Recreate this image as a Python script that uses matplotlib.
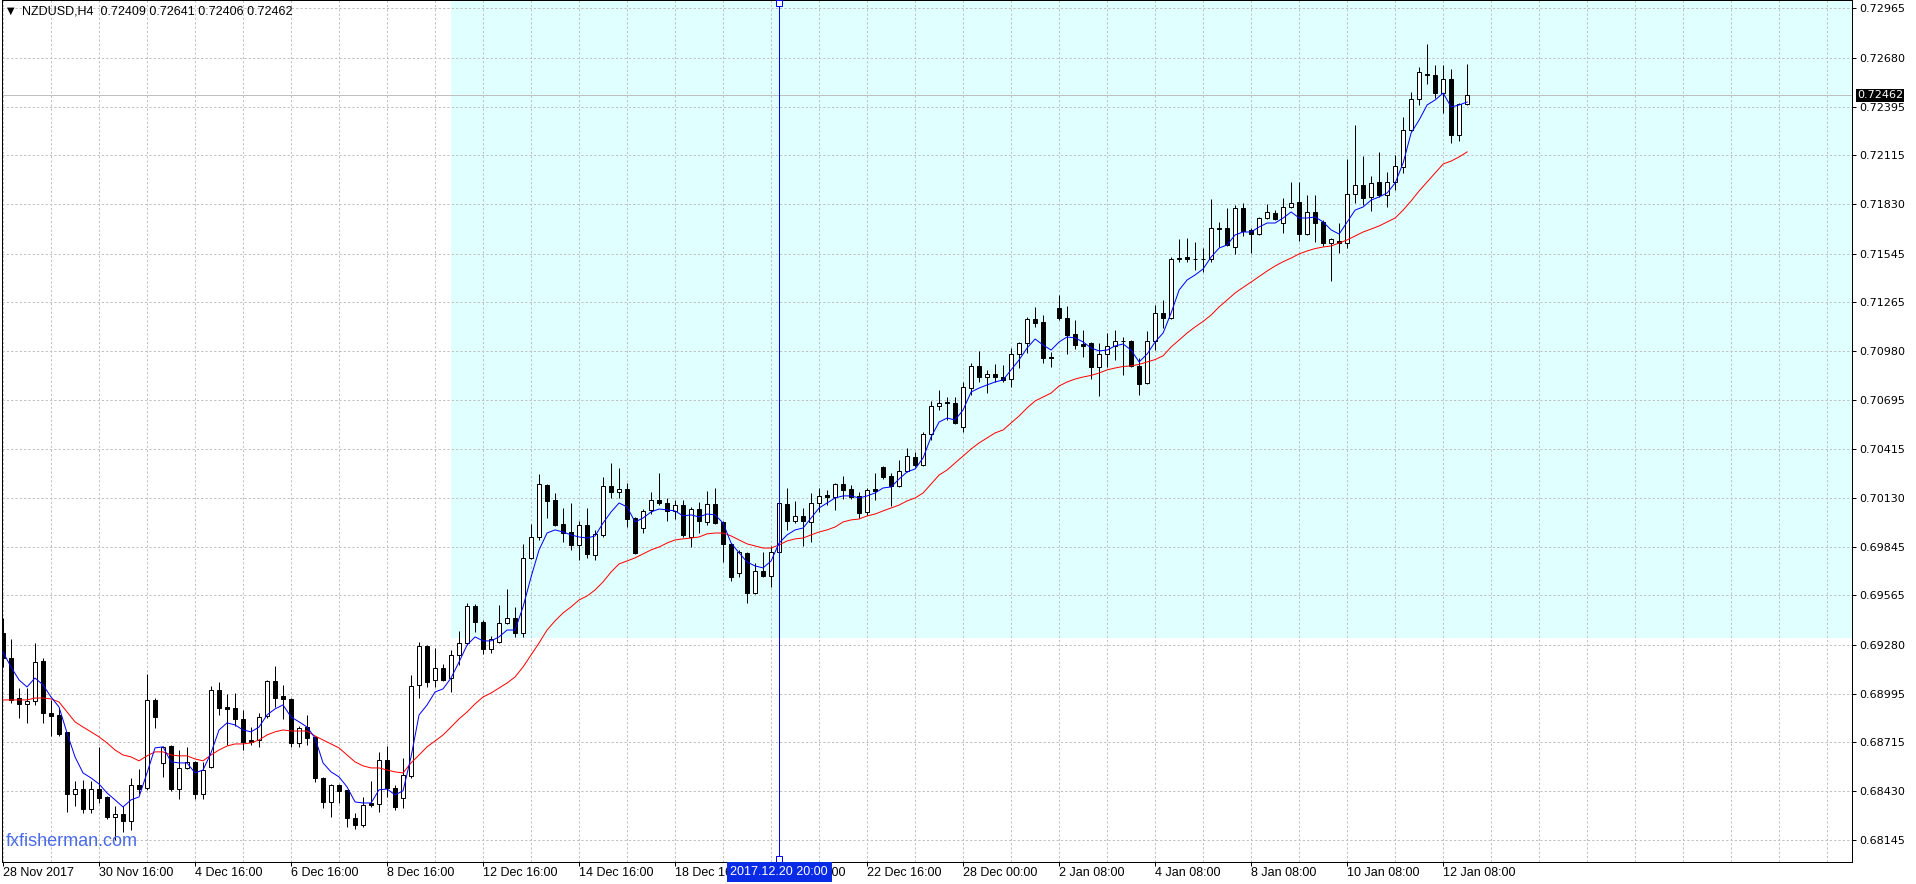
import matplotlib
matplotlib.use("Agg")
import matplotlib.pyplot as plt
import matplotlib.transforms as mtransforms
from matplotlib.patches import Rectangle
import numpy as np

# NZDUSD H4 candles, 28 Nov 2017 20:00 .. 12 Jan 2018 20:00
opens = [
    0.69347, 0.69202, 0.68970, 0.68936, 0.68953, 0.69185, 0.68884, 0.68872, 0.68774, 0.68414,
    0.68443, 0.68327, 0.68443, 0.68397, 0.68281, 0.68298, 0.68258, 0.68466, 0.68449, 0.68959,
    0.68594, 0.68692, 0.68443, 0.68565, 0.68600, 0.68414, 0.68571, 0.69017, 0.68918, 0.68913,
    0.68849, 0.68727, 0.68727, 0.68866, 0.69069, 0.68982, 0.68965, 0.68710, 0.68802, 0.68745,
    0.68507, 0.68368, 0.68466, 0.68438, 0.68275, 0.68235, 0.68362, 0.68356, 0.68611, 0.68449,
    0.68391, 0.68519, 0.69046, 0.69272, 0.69075, 0.69144, 0.69086, 0.69220, 0.69289, 0.69503,
    0.69411, 0.69254, 0.69295, 0.69405, 0.69434, 0.69347, 0.69782, 0.69903, 0.70204, 0.70118,
    0.69979, 0.69932, 0.69857, 0.69973, 0.69799, 0.69915, 0.70199, 0.70164, 0.70181, 0.70013,
    0.69955, 0.70060, 0.70118, 0.70100, 0.70054, 0.70088, 0.69903, 0.70065, 0.69990, 0.70094,
    0.69990, 0.69863, 0.69695, 0.69811, 0.69579, 0.69706, 0.69677, 0.69816, 0.70094, 0.69996,
    0.70025, 0.69990, 0.70100, 0.70147, 0.70135, 0.70210, 0.70181, 0.70141, 0.70048, 0.70181,
    0.70309, 0.70256, 0.70199, 0.70286, 0.70367, 0.70320, 0.70500, 0.70662, 0.70685, 0.70679,
    0.70540, 0.70766, 0.70894, 0.70830, 0.70847, 0.70830, 0.70818, 0.70963, 0.71027, 0.71166,
    0.71149, 0.70946, 0.71230, 0.71172, 0.71079, 0.71021, 0.71027, 0.70888, 0.70963, 0.71010,
    0.71039, 0.71039, 0.70894, 0.70795, 0.71039, 0.71201, 0.71172, 0.71514, 0.71525, 0.71514,
    0.71511, 0.71514, 0.71693, 0.71693, 0.71583, 0.71809, 0.71682, 0.71658, 0.71751, 0.71780,
    0.71722, 0.71815, 0.71844, 0.71658, 0.71786, 0.71728, 0.71606, 0.71618, 0.71606, 0.71890,
    0.71942, 0.71873, 0.71960, 0.71884, 0.71960, 0.72047, 0.72261, 0.72441, 0.72585, 0.72580,
    0.72475, 0.72556, 0.72232, 0.72409,
]
highs = [
    0.69434, 0.69312, 0.69028, 0.69028, 0.69289, 0.69202, 0.68959, 0.68913, 0.68774, 0.68490,
    0.68495, 0.68490, 0.68687, 0.68403, 0.68345, 0.68345, 0.68507, 0.68559, 0.69109, 0.68970,
    0.68692, 0.68700, 0.68669, 0.68687, 0.68605, 0.68600, 0.69040, 0.69063, 0.68994, 0.68999,
    0.68901, 0.68802, 0.68884, 0.69075, 0.69156, 0.69046, 0.68970, 0.68808, 0.68872, 0.68750,
    0.68510, 0.68472, 0.68472, 0.68440, 0.68304, 0.68397, 0.68490, 0.68658, 0.68692, 0.68466,
    0.68623, 0.69104, 0.69295, 0.69275, 0.69260, 0.69167, 0.69249, 0.69359, 0.69521, 0.69515,
    0.69420, 0.69330, 0.69509, 0.69602, 0.69498, 0.69863, 0.69979, 0.70268, 0.70210, 0.70158,
    0.70071, 0.70100, 0.69996, 0.70071, 0.69944, 0.70251, 0.70332, 0.70303, 0.70216, 0.70020,
    0.70065, 0.70164, 0.70274, 0.70129, 0.70118, 0.70118, 0.70077, 0.70106, 0.70170, 0.70187,
    0.69996, 0.69868, 0.69828, 0.69816, 0.69753, 0.69816, 0.69851, 0.70105, 0.70187, 0.70112,
    0.70071, 0.70158, 0.70187, 0.70175, 0.70216, 0.70256, 0.70204, 0.70164, 0.70187, 0.70274,
    0.70315, 0.70274, 0.70349, 0.70419, 0.70396, 0.70511, 0.70691, 0.70755, 0.70714, 0.70714,
    0.70801, 0.70911, 0.70981, 0.70871, 0.70905, 0.70900, 0.70998, 0.71033, 0.71178, 0.71236,
    0.71189, 0.70975, 0.71305, 0.71241, 0.71160, 0.71102, 0.71033, 0.71027, 0.71085, 0.71102,
    0.71062, 0.71044, 0.70940, 0.71096, 0.71247, 0.71276, 0.71525, 0.71630, 0.71635, 0.71612,
    0.71577, 0.71861, 0.71728, 0.71809, 0.71826, 0.71838, 0.71693, 0.71755, 0.71832, 0.71797,
    0.71867, 0.71960, 0.71960, 0.71884, 0.71884, 0.71740, 0.71635, 0.71722, 0.72093, 0.72290,
    0.72110, 0.71994, 0.72134, 0.72018, 0.72116, 0.72336, 0.72481, 0.72626, 0.72759, 0.72637,
    0.72637, 0.72614, 0.72415, 0.72641,
]
lows = [
    0.69150, 0.68942, 0.68855, 0.68826, 0.68930, 0.68826, 0.68750, 0.68750, 0.68310, 0.68345,
    0.68304, 0.68304, 0.68362, 0.68270, 0.68148, 0.68194, 0.68206, 0.68414, 0.68440, 0.68797,
    0.68513, 0.68430, 0.68385, 0.68560, 0.68385, 0.68385, 0.68565, 0.68872, 0.68698, 0.68808,
    0.68669, 0.68698, 0.68687, 0.68855, 0.68918, 0.68849, 0.68687, 0.68687, 0.68698, 0.68484,
    0.68333, 0.68281, 0.68362, 0.68223, 0.68212, 0.68223, 0.68339, 0.68310, 0.68397, 0.68322,
    0.68333, 0.68507, 0.68970, 0.69034, 0.69034, 0.69070, 0.69005, 0.69162, 0.69280, 0.69353,
    0.69225, 0.69231, 0.69290, 0.69400, 0.69324, 0.69324, 0.69775, 0.69886, 0.70013, 0.69965,
    0.69874, 0.69828, 0.69770, 0.69782, 0.69770, 0.69903, 0.70129, 0.70129, 0.69961, 0.69805,
    0.69926, 0.70036, 0.70090, 0.69996, 0.70007, 0.69905, 0.69845, 0.69926, 0.69973, 0.69978,
    0.69758, 0.69648, 0.69671, 0.69521, 0.69575, 0.69670, 0.69614, 0.69810, 0.69944, 0.69984,
    0.69851, 0.69874, 0.70048, 0.70088, 0.70060, 0.70123, 0.70123, 0.70013, 0.70031, 0.70118,
    0.70239, 0.70083, 0.70193, 0.70280, 0.70309, 0.70315, 0.70465, 0.70639, 0.70581, 0.70558,
    0.70511, 0.70726, 0.70801, 0.70737, 0.70801, 0.70801, 0.70772, 0.70882, 0.70969, 0.71120,
    0.70911, 0.70888, 0.71160, 0.70963, 0.70992, 0.70946, 0.70818, 0.70720, 0.70888, 0.70929,
    0.70842, 0.70885, 0.70726, 0.70790, 0.70986, 0.71114, 0.71166, 0.71496, 0.71496, 0.71450,
    0.71438, 0.71496, 0.71583, 0.71590, 0.71543, 0.71647, 0.71548, 0.71650, 0.71748, 0.71740,
    0.71664, 0.71810, 0.71618, 0.71655, 0.71612, 0.71589, 0.71386, 0.71548, 0.71577, 0.71838,
    0.71826, 0.71792, 0.71873, 0.71815, 0.71913, 0.72012, 0.72255, 0.72406, 0.72527, 0.72446,
    0.72359, 0.72186, 0.72197, 0.72406,
]
closes = [
    0.69202, 0.68959, 0.68936, 0.68953, 0.69179, 0.68884, 0.68866, 0.68762, 0.68414, 0.68443,
    0.68327, 0.68443, 0.68391, 0.68281, 0.68298, 0.68258, 0.68466, 0.68443, 0.68959, 0.68860,
    0.68687, 0.68443, 0.68565, 0.68600, 0.68414, 0.68553, 0.69017, 0.68913, 0.68907, 0.68849,
    0.68716, 0.68716, 0.68860, 0.69069, 0.68970, 0.68965, 0.68710, 0.68797, 0.68739, 0.68507,
    0.68368, 0.68466, 0.68432, 0.68275, 0.68235, 0.68351, 0.68351, 0.68611, 0.68449, 0.68339,
    0.68524, 0.69040, 0.69272, 0.69063, 0.69144, 0.69075, 0.69220, 0.69289, 0.69503, 0.69411,
    0.69254, 0.69312, 0.69405, 0.69434, 0.69347, 0.69782, 0.69903, 0.70210, 0.70112, 0.69973,
    0.69926, 0.69857, 0.69973, 0.69805, 0.69921, 0.70199, 0.70164, 0.70181, 0.70007, 0.69811,
    0.70054, 0.70118, 0.70100, 0.70054, 0.70088, 0.69915, 0.70065, 0.69996, 0.70094, 0.69984,
    0.69863, 0.69671, 0.69816, 0.69579, 0.69706, 0.69677, 0.69816, 0.70100, 0.69996, 0.70025,
    0.69996, 0.70100, 0.70141, 0.70135, 0.70210, 0.70175, 0.70135, 0.70042, 0.70175, 0.70170,
    0.70251, 0.70199, 0.70286, 0.70372, 0.70320, 0.70500, 0.70662, 0.70679, 0.70679, 0.70564,
    0.70772, 0.70894, 0.70830, 0.70847, 0.70830, 0.70813, 0.70963, 0.71027, 0.71166, 0.71143,
    0.70940, 0.70940, 0.71172, 0.71073, 0.71015, 0.71010, 0.70888, 0.70963, 0.71010, 0.71039,
    0.71036, 0.70894, 0.70790, 0.71039, 0.71201, 0.71172, 0.71514, 0.71517, 0.71514, 0.71511,
    0.71514, 0.71693, 0.71687, 0.71595, 0.71809, 0.71676, 0.71658, 0.71751, 0.71786, 0.71745,
    0.71815, 0.71838, 0.71658, 0.71786, 0.71722, 0.71606, 0.71630, 0.71606, 0.71890, 0.71942,
    0.71867, 0.71954, 0.71884, 0.71960, 0.72052, 0.72261, 0.72441, 0.72597, 0.72580, 0.72475,
    0.72556, 0.72232, 0.72409, 0.72462,
]

# moving averages as drawn on the chart (blue = fast, red = slow)
ma_fast = [
    0.69237, 0.69150, 0.69075, 0.69034, 0.69086, 0.69046, 0.68976, 0.68918, 0.68768, 0.68629,
    0.68536, 0.68507, 0.68472, 0.68420, 0.68380, 0.68339, 0.68380, 0.68397, 0.68536, 0.68681,
    0.68687, 0.68600, 0.68594, 0.68594, 0.68536, 0.68553, 0.68652, 0.68785, 0.68826, 0.68814,
    0.68785, 0.68774, 0.68802, 0.68872, 0.68907, 0.68930, 0.68860, 0.68832, 0.68802, 0.68739,
    0.68594, 0.68542, 0.68513, 0.68455, 0.68368, 0.68362, 0.68362, 0.68438, 0.68443, 0.68409,
    0.68432, 0.68629, 0.68872, 0.68930, 0.69005, 0.69023, 0.69086, 0.69179, 0.69277, 0.69324,
    0.69301, 0.69301, 0.69324, 0.69364, 0.69364, 0.69498, 0.69671, 0.69828, 0.69926, 0.69944,
    0.69932, 0.69915, 0.69903, 0.69897, 0.69909, 0.69984, 0.70048, 0.70100, 0.70077, 0.69990,
    0.70013, 0.70048, 0.70065, 0.70060, 0.70054, 0.70025, 0.70031, 0.70019, 0.70036, 0.70031,
    0.69984, 0.69868, 0.69811, 0.69758, 0.69735, 0.69724, 0.69764, 0.69868, 0.69915, 0.69944,
    0.69955, 0.70013, 0.70071, 0.70100, 0.70129, 0.70141, 0.70141, 0.70129, 0.70141, 0.70158,
    0.70187, 0.70193, 0.70239, 0.70280, 0.70297, 0.70361, 0.70483, 0.70569, 0.70592, 0.70581,
    0.70639, 0.70743, 0.70766, 0.70784, 0.70801, 0.70813, 0.70871, 0.70929, 0.70998, 0.71050,
    0.71015, 0.70986, 0.71033, 0.71062, 0.71056, 0.71033, 0.70998, 0.70981, 0.70986, 0.71010,
    0.71021, 0.70986, 0.70917, 0.70963, 0.71033, 0.71085, 0.71201, 0.71334, 0.71392, 0.71421,
    0.71456, 0.71525, 0.71577, 0.71595, 0.71653, 0.71670, 0.71670, 0.71699, 0.71722, 0.71722,
    0.71751, 0.71786, 0.71751, 0.71751, 0.71757, 0.71728, 0.71682, 0.71658, 0.71728, 0.71797,
    0.71815, 0.71855, 0.71873, 0.71896, 0.71954, 0.72070, 0.72244, 0.72319, 0.72406, 0.72435,
    0.72475, 0.72394, 0.72406, 0.72423,
]
ma_slow = [
    0.68959, 0.68959, 0.68959, 0.68959, 0.68970, 0.68970, 0.68965, 0.68947, 0.68889, 0.68832,
    0.68802, 0.68774, 0.68745, 0.68710, 0.68669, 0.68640, 0.68629, 0.68606, 0.68635, 0.68658,
    0.68658, 0.68640, 0.68635, 0.68635, 0.68617, 0.68606, 0.68640, 0.68669, 0.68692, 0.68704,
    0.68704, 0.68710, 0.68727, 0.68756, 0.68774, 0.68785, 0.68779, 0.68779, 0.68779, 0.68750,
    0.68727, 0.68704, 0.68681, 0.68640, 0.68600, 0.68577, 0.68565, 0.68565, 0.68553, 0.68542,
    0.68536, 0.68594, 0.68640, 0.68687, 0.68721, 0.68756, 0.68802, 0.68849, 0.68889, 0.68936,
    0.68976, 0.68999, 0.69028, 0.69057, 0.69092, 0.69150, 0.69220, 0.69289, 0.69364, 0.69417,
    0.69463, 0.69498, 0.69538, 0.69561, 0.69596, 0.69643, 0.69700, 0.69747, 0.69764, 0.69782,
    0.69805, 0.69828, 0.69845, 0.69868, 0.69886, 0.69892, 0.69897, 0.69903, 0.69921, 0.69926,
    0.69926, 0.69909, 0.69886, 0.69863, 0.69851, 0.69839, 0.69839, 0.69857, 0.69880, 0.69892,
    0.69897, 0.69915, 0.69932, 0.69944, 0.69961, 0.69990, 0.70002, 0.70007, 0.70025, 0.70036,
    0.70054, 0.70071, 0.70088, 0.70112, 0.70129, 0.70158, 0.70210, 0.70262, 0.70291, 0.70332,
    0.70372, 0.70413, 0.70448, 0.70477, 0.70506, 0.70523, 0.70564, 0.70604, 0.70651, 0.70691,
    0.70714, 0.70737, 0.70778, 0.70801, 0.70818, 0.70830, 0.70839, 0.70853, 0.70871, 0.70882,
    0.70891, 0.70894, 0.70903, 0.70917, 0.70931, 0.70953, 0.71004, 0.71044, 0.71085, 0.71120,
    0.71152, 0.71189, 0.71236, 0.71276, 0.71317, 0.71349, 0.71380, 0.71412, 0.71444, 0.71473,
    0.71498, 0.71519, 0.71543, 0.71560, 0.71574, 0.71583, 0.71589, 0.71606, 0.71624, 0.71647,
    0.71670, 0.71687, 0.71705, 0.71728, 0.71751, 0.71797, 0.71850, 0.71908, 0.71960, 0.72012,
    0.72064, 0.72081, 0.72105, 0.72134,
]

price_ticks = [0.72965, 0.72680, 0.72395, 0.72115, 0.71830, 0.71545, 0.71265, 0.70980, 0.70695,
               0.70415, 0.70130, 0.69845, 0.69565, 0.69280, 0.68995, 0.68715, 0.68430, 0.68145]
date_labels = ["28 Nov 2017", "30 Nov 16:00", "4 Dec 16:00", "6 Dec 16:00", "8 Dec 16:00",
               "12 Dec 16:00", "14 Dec 16:00", "18 Dec 16:00", "20 Dec 16:00", "22 Dec 16:00",
               "28 Dec 00:00", "2 Jan 08:00", "4 Jan 08:00", "8 Jan 08:00", "10 Jan 08:00",
               "12 Jan 08:00"]
bars_per_label = 12

symbol = "NZDUSD,H4"
rect_start_bar = 56       # light cyan rectangle object
rect_low = 0.69320
vline_bar = 97
vline_label = "2017.12.20 20:00"
price_min, price_max = 0.68020, 0.73014
bar_max = 231.1

o = np.array(opens)
h = np.array(highs)
l = np.array(lows)
c = np.array(closes)
x = np.arange(len(o))

W, H = 1916, 884
fig = plt.figure(figsize=(W / 100, H / 100), dpi=100)
ax = fig.add_axes([2 / W, 22 / H, 1850 / W, 862 / H])
ax.set_xlim(-0.125, bar_max)
ax.set_ylim(price_min, price_max)

px = 0.72  # one pixel in points

ax.add_patch(Rectangle((rect_start_bar, rect_low), 1000, 1, facecolor="#e0ffff",
                       edgecolor="none", zorder=0))

# grid
grid_style = dict(color="#c0c0c0", lw=px, dashes=(3 * px, 3 * px), zorder=0.5)
for gx in np.arange(0, bar_max, bars_per_label / 2):
    ax.axvline(gx, **grid_style)
for gy in price_ticks:
    ax.axhline(gy, **grid_style)

ax.axhline(c[-1], color="#c0c0c0", lw=px, zorder=0.6)

# candles
up = c >= o
ax.vlines(x, l, h, color="black", lw=px, zorder=2)
body_lo = np.minimum(o, c)
body_h = np.abs(c - o)
ax.bar(x[up], body_h[up], bottom=body_lo[up], width=0.5, facecolor="white",
       edgecolor="black", lw=px, zorder=3)
ax.bar(x[~up], body_h[~up], bottom=body_lo[~up], width=0.5, facecolor="black",
       edgecolor="black", lw=px, zorder=3)

ax.plot(x, ma_slow, color="#ff0000", lw=px, zorder=4)
ax.plot(x, ma_fast, color="#0000ff", lw=px, zorder=4)

# selected vertical line
ax.axvline(vline_bar, color="#0000ff", lw=px, zorder=5)
trans = mtransforms.blended_transform_factory(ax.transData, ax.transAxes)
ax.plot([vline_bar, vline_bar], [0.003, 0.997], transform=trans, ls="none", marker="s",
        ms=4, mfc="white", mec="#0000ff", mew=px, zorder=6, clip_on=False)

for s in ax.spines.values():
    s.set_linewidth(px)
    s.set_color("black")

# axes ticks
ax.yaxis.tick_right()
ax.set_yticks(price_ticks)
ax.set_yticklabels([f"{p:.5f}" for p in price_ticks], fontsize=8, family="DejaVu Sans")
ax.tick_params(axis="y", direction="out", length=3, width=px, pad=2)

ax.set_xticks(np.arange(len(date_labels)) * bars_per_label)
ax.set_xticklabels(date_labels, fontsize=9, ha="left",
                   family=["Liberation Sans Narrow", "Liberation Sans"])
ax.tick_params(axis="x", direction="out", length=3, width=px, pad=0.5)

ax.annotate(f"{c[-1]:.5f}", xy=(1.0, c[-1]), xycoords=("axes fraction", "data"),
            xytext=(5, 0), textcoords="offset pixels", ha="left", va="center",
            fontsize=8, family="DejaVu Sans", color="white",
            bbox=dict(boxstyle="square,pad=0.12", fc="black", ec="none"),
            annotation_clip=False, zorder=10)

# time label of the selected line, covering the date labels below it
ax.annotate(vline_label, xy=(vline_bar, 0), xycoords=("data", "axes fraction"),
            xytext=(0, -10), textcoords="offset pixels", ha="center", va="center",
            fontsize=9, family=["Liberation Sans Narrow", "Liberation Sans"], color="white",
            bbox=dict(boxstyle="square,pad=0.3", fc="#0a2be6", ec="none"),
            annotation_clip=False, zorder=10)

title = f"{symbol}  {o[-1]:.5f} {h[-1]:.5f} {l[-1]:.5f} {c[-1]:.5f}"
ax.text(5 / 1850, 1 - 11 / 862, "\u25bc", transform=ax.transAxes, fontsize=7,
        family="DejaVu Sans", va="center", ha="left", zorder=10)
ax.text(20 / 1850, 1 - 11 / 862, title, transform=ax.transAxes, fontsize=9,
        family=["Liberation Sans", "DejaVu Sans"], va="center", ha="left", zorder=10)

ax.text(4 / 1850, 21 / 862, "fxfisherman.com", transform=ax.transAxes, fontsize=13,
        family="Liberation Sans", color="#4a6be8", va="center", ha="left", zorder=10)

fig.savefig("out.png", dpi=100)
